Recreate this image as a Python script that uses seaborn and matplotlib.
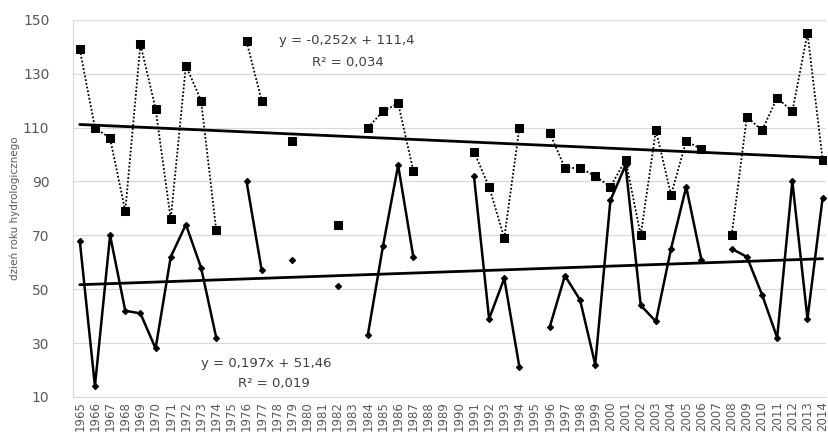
import numpy as np
import pandas as pd
import matplotlib
matplotlib.use("Agg")
import matplotlib.pyplot as plt
import seaborn as sns

years = list(range(1965, 2015))
nan = np.nan
# upper series (squares, dotted)
upper = [139, 110, 106, 79, 141, 117, 76, 133, 120, 72,
         nan, 142, 120, nan, 105, nan, nan, 74, nan, 110,
         116, 119, 94, nan, nan, nan, 101, 88, 69, 110,
         nan, 108, 95, 95, 92, 88, 98, 70, 109, 85,
         105, 102, nan, 70, 114, 109, 121, 116, 145, 98]
# lower series (diamonds, solid)
lower = [68, 14, 70, 42, 41, 28, 62, 74, 58, 32,
         nan, 90, 57, nan, 61, nan, nan, 51, nan, 33,
         66, 96, 62, nan, nan, nan, 92, 39, 54, 21,
         nan, 36, 55, 46, 22, 83, 96, 44, 38, 65,
         88, 61, nan, 65, 62, 48, 32, 90, 39, 84]
# trend lines as shown on the chart (x = 1..50)
trend_upper = (-0.252, 111.4)
trend_lower = (0.197, 51.46)


def segments(vals):
    df = pd.DataFrame({"year": years, "val": vals})
    df["seg"] = df["val"].isna().cumsum()
    return df.dropna()


sns.set_style("white")
fig = plt.figure(figsize=(8.29, 4.41), dpi=100)
ax = fig.add_axes([0.088, 0.10, 0.908, 0.855])

for y in range(10, 151, 20):
    ax.axhline(y, color="#d9d9d9", lw=0.9, zorder=0)

up = segments(upper)
sns.lineplot(data=up, x="year", y="val", units="seg", estimator=None, ax=ax,
             color="black", lw=1.3, linestyle=(0, (1, 1.1)),
             marker="s", markersize=6, markeredgecolor="black", zorder=3)
lo = segments(lower)
sns.lineplot(data=lo, x="year", y="val", units="seg", estimator=None, ax=ax,
             color="black", lw=1.8, marker="D", markersize=3.2,
             markeredgecolor="black", zorder=3)

xi = np.arange(1, len(years) + 1)
sns.lineplot(x=years, y=trend_upper[0] * xi + trend_upper[1], ax=ax,
             color="black", lw=2, zorder=2)
sns.lineplot(x=years, y=trend_lower[0] * xi + trend_lower[1], ax=ax,
             color="black", lw=2, zorder=2)

txt = dict(fontsize=9.5, color="#404040", ha="center", va="center")
ax.text(1982.6, 142.2, "y = -0,252x + 111,4", **txt)
ax.text(1982.7, 134.2, "R² = 0,034", **txt)
ax.text(1977.3, 22.3, "y = 0,197x + 51,46", **txt)
ax.text(1977.8, 15, "R² = 0,019", **txt)

ax.set_xlim(1964.55, 2014.2)
ax.set_ylim(10, 150)
ax.set_yticks(range(10, 151, 20))
ax.set_xticks(years)
ax.set_xticklabels([str(y) for y in years], rotation=90, fontsize=8.5,
                   color="#595959")
ax.tick_params(axis="y", labelsize=10, labelcolor="#595959", length=0, pad=17)
ax.tick_params(axis="x", length=0, pad=3)
ax.set_xlabel("")
ax.set_ylabel("dzień roku hydrologicznego", fontsize=7.5, color="#595959",
              labelpad=2)
for s in ["top", "right"]:
    ax.spines[s].set_visible(False)
ax.spines["left"].set_color("#d9d9d9")
ax.spines["bottom"].set_color("#d9d9d9")

fig.savefig("out.png", dpi=100)
